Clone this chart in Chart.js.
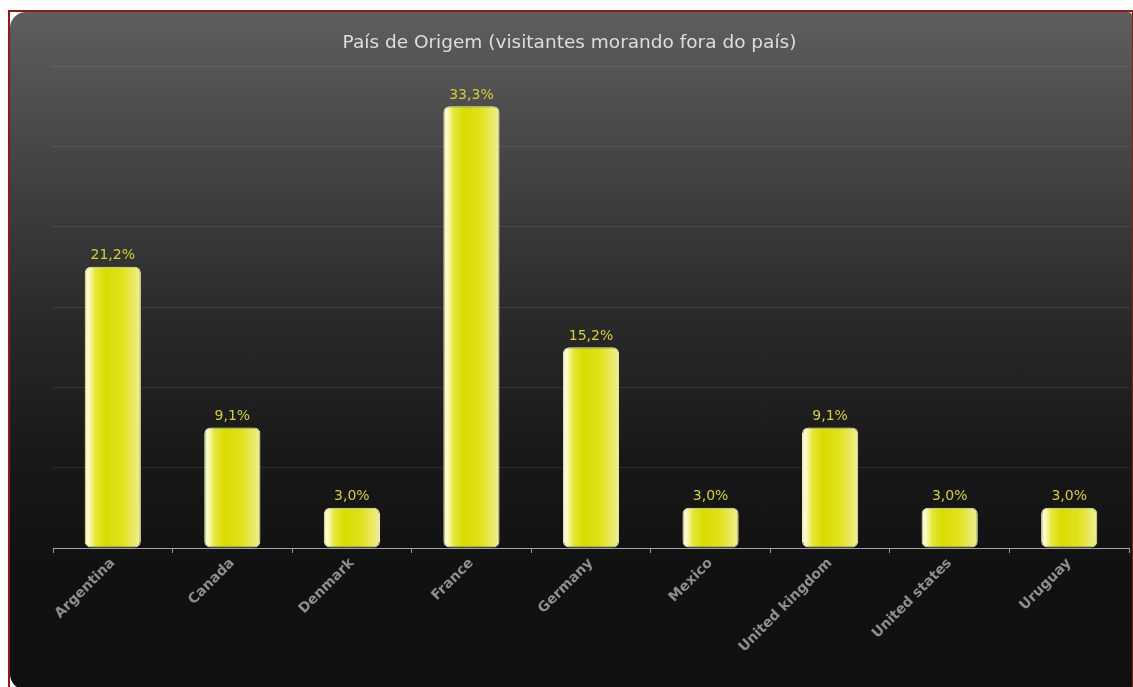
<!DOCTYPE html>
<html>
<head>
<meta charset="utf-8">
<script src="https://cdn.jsdelivr.net/npm/chart.js@4.4.1/dist/chart.umd.min.js"></script>
<style>
  html, body { margin: 0; padding: 0; background: #fff; overflow: hidden; }
  #frame {
    position: absolute; left: 8px; top: 10px; width: 1122px; height: 690px;
    border-top: 2px solid #8e1a1a; border-left: 2px solid #8e1a1a; border-right: 1px solid #8e1a1a;
  }
  #panel {
    position: absolute; left: 0; top: 0; right: 0; bottom: 12px;
    border-radius: 16px 4px 4px 16px;
    background: linear-gradient(to bottom, #5e5e5e 0%, #444 22%, #2a2a2a 45%, #191919 65%, #111 82%, #101010 100%);
  }
  #chart { position: absolute; left: 10px; top: 12px; }
</style>
</head>
<body>
<div id="frame"><div id="panel"></div></div>
<canvas id="chart" width="1121" height="675"></canvas>
<script>
  // --- Data (visitor counts, percent labels as shown) ---
  const countries = ["Argentina", "Canada", "Denmark", "France", "Germany", "Mexico", "United kingdom", "United states", "Uruguay"];
  const visitors = [7, 3, 1, 11, 5, 1, 3, 1, 1];
  const pctLabels = ["21,2%", "9,1%", "3,0%", "33,3%", "15,2%", "3,0%", "9,1%", "3,0%", "3,0%"];
  const yMax = 12;
  const yStep = 2;

  const BAR_PCT = 0.47;

  // horizontal glossy gradient for each bar, positioned from the x scale
  function barGradient(ctx) {
    const chart = ctx.chart;
    const xs = chart.scales.x;
    if (!xs || ctx.dataIndex === undefined) return "#e0e000";
    const cx = xs.getPixelForValue(ctx.dataIndex) - 2;
    const w = (xs.width / countries.length) * BAR_PCT;
    if (!isFinite(cx) || !isFinite(w) || w <= 0) return "#e0e000";
    const g = chart.ctx.createLinearGradient(cx - w / 2, 0, cx + w / 2, 0);
    g.addColorStop(0, "#eeee90");
    g.addColorStop(0.1, "#fbfbd6");
    g.addColorStop(0.22, "#e6e83a");
    g.addColorStop(0.4, "#d8dc00");
    g.addColorStop(0.7, "#e0e21c");
    g.addColorStop(0.92, "#eaea68");
    g.addColorStop(1, "#eeee8c");
    return g;
  }

  const valueLabels = {
    id: "valueLabels",
    afterDatasetsDraw(chart) {
      const { ctx } = chart;
      const meta = chart.getDatasetMeta(0);
      ctx.save();
      ctx.font = "14px 'DejaVu Sans'";
      ctx.fillStyle = "#d2d232";
      ctx.textAlign = "center";
      ctx.textBaseline = "bottom";
      meta.data.forEach((bar, i) => {
        ctx.fillText(pctLabels[i], bar.x, bar.y - 4);
      });
      ctx.restore();
    },
  };

  new Chart(document.getElementById("chart"), {
    type: "bar",
    data: {
      labels: countries,
      datasets: [{
        data: visitors,
        backgroundColor: barGradient,
        borderColor: "#f2f2b8",
        borderWidth: 1,
        borderRadius: 6,
        borderSkipped: false,
        categoryPercentage: 1,
        barPercentage: BAR_PCT,
      }],
    },
    options: {
      responsive: false,
      animation: false,
      layout: { padding: { left: 0, right: 2, top: 0, bottom: 9 } },
      plugins: {
        legend: { display: false },
        tooltip: { enabled: false },
        title: {
          display: true,
          text: "País de Origem (visitantes morando fora do país)",
          color: "#dedede",
          font: { family: "'DejaVu Sans'", size: 18.5, weight: "normal", lineHeight: 1.2 },
          padding: { top: 20, bottom: 11.8 },
        },
      },
      scales: {
        x: {
          grid: { drawOnChartArea: false, drawTicks: true, tickLength: 5, color: "#9a9a9a" },
          border: { color: "#a2a2a2", width: 1 },
          ticks: {
            color: "#8e8e8e",
            font: { family: "'DejaVu Sans'", size: 14, weight: "bold" },
            minRotation: 45,
            maxRotation: 45,
            padding: 2,
          },
          afterFit(scale) { scale.height = 130; },
        },
        y: {
          min: 0,
          max: yMax,
          ticks: { display: false, stepSize: yStep },
          grid: { color: "rgba(255,255,255,0.09)", drawTicks: false },
          border: { display: false },
          afterFit(scale) { scale.width = 43; },
        },
      },
    },
    plugins: [valueLabels],
  });
</script>
</body>
</html>
